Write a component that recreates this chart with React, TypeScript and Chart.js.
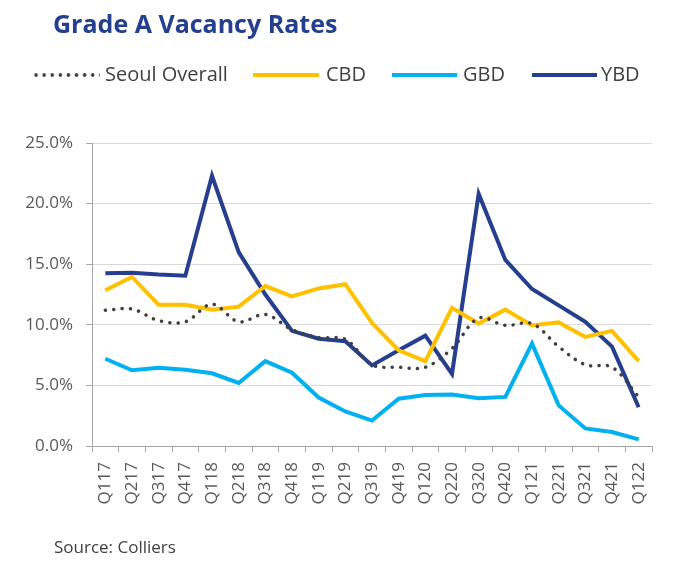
import React, { useEffect, useRef } from "react";
import { Chart, registerables } from "chart.js";

Chart.register(...registerables);

const categories = [
  "Q117", "Q217", "Q317", "Q417", "Q118", "Q218", "Q318", "Q418",
  "Q119", "Q219", "Q319", "Q419", "Q120", "Q220", "Q320", "Q420",
  "Q121", "Q221", "Q321", "Q421", "Q122",
];

const seoulOverall = [11.2, 11.3, 10.35, 10.25, 11.7, 10.25, 10.85, 9.6, 8.95, 8.8, 6.7, 6.5, 6.5, 8.05, 10.55, 9.95, 10.1, 8.2, 6.7, 6.5, 4.05];
const cbd = [12.85, 13.95, 11.65, 11.65, 11.25, 11.5, 13.2, 12.35, 13.0, 13.35, 10.15, 7.9, 7.0, 11.4, 10.1, 11.25, 9.95, 10.2, 9.0, 9.5, 7.0];
const gbd = [7.2, 6.25, 6.45, 6.3, 6.0, 5.2, 7.0, 6.05, 4.0, 2.85, 2.1, 3.9, 4.2, 4.25, 3.95, 4.05, 8.45, 3.35, 1.45, 1.15, 0.55];
const ybd = [14.25, 14.3, 14.15, 14.05, 22.3, 16.0, 12.5, 9.5, 8.85, 8.65, 6.65, 7.9, 9.1, 5.95, 20.8, 15.35, 12.95, 11.6, 10.25, 8.2, 3.2];

const yTicks = [0, 5, 10, 15, 20, 25];

const COLORS = {
  seoul: "#404040",
  cbd: "#FFC000",
  gbd: "#00B0F0",
  ybd: "#253E8E",
};

const FONT = "'Open Sans', 'Noto Sans', sans-serif";

export default function App() {
  const canvasRef = useRef<HTMLCanvasElement | null>(null);

  useEffect(() => {
    const canvas = canvasRef.current;
    if (!canvas) return;
    const chart = new Chart(canvas, {
      type: "line",
      data: {
        labels: categories,
        datasets: [
          {
            label: "Seoul Overall",
            data: seoulOverall,
            borderColor: COLORS.seoul,
            borderWidth: 3.5,
            borderDash: [0.1, 8.3],
            borderCapStyle: "round",
            pointRadius: 0,
            tension: 0.35,
          },
          {
            label: "CBD",
            data: cbd,
            borderColor: COLORS.cbd,
            borderWidth: 4,
            pointRadius: 0,
            tension: 0,
          },
          {
            label: "GBD",
            data: gbd,
            borderColor: COLORS.gbd,
            borderWidth: 4,
            pointRadius: 0,
            tension: 0,
          },
          {
            label: "YBD",
            data: ybd,
            borderColor: COLORS.ybd,
            borderWidth: 4,
            pointRadius: 0,
            tension: 0,
          },
        ],
      },
      options: {
        responsive: false,
        animation: false,
        layout: { padding: { top: 143, left: 0, right: 39, bottom: 0 } },
        plugins: {
          legend: { display: false },
          title: { display: false },
          tooltip: { enabled: false },
        },
        scales: {
          x: {
            type: "category",
            offset: true,
            grid: {
              offset: true,
              drawOnChartArea: false,
              drawTicks: true,
              tickLength: 6,
              tickColor: "#a6a6a6",
            },
            border: { color: "#a6a6a6", width: 1 },
            ticks: {
              autoSkip: false,
              minRotation: 90,
              maxRotation: 90,
              padding: 10,
              color: "#595959",
              font: { family: FONT, size: 17 },
            },
            afterFit: (scale: any) => {
              scale.height = 124;
            },
          },
          y: {
            min: 0,
            max: 25,
            afterBuildTicks: (scale: any) => {
              scale.ticks = yTicks.map((v) => ({ value: v }));
            },
            grid: {
              color: "#d9d9d9",
              lineWidth: 1,
              tickLength: 6,
              tickColor: "#a6a6a6",
            },
            border: { color: "#a6a6a6", width: 1 },
            ticks: {
              padding: 13,
              color: "#595959",
              font: { family: FONT, size: 17 },
              callback: (v: any) => Number(v).toFixed(1) + "%",
            },
            afterFit: (scale: any) => {
              scale.width = 92;
            },
          },
        },
      },
    });
    return () => chart.destroy();
  }, []);

  const legendText: React.CSSProperties = {
    position: "absolute",
    top: 62,
    fontFamily: FONT,
    fontSize: 20,
    lineHeight: "24px",
    color: "#404040",
    whiteSpace: "nowrap",
  };
  const legendLine = (left: number, width: number, color: string): React.CSSProperties => ({
    position: "absolute",
    left,
    top: 73,
    width,
    height: 4,
    background: color,
  });

  return (
    <div style={{ position: "absolute", left: 0, top: 0, width: 691, height: 570, background: "#fff" }}>
      <canvas
        ref={canvasRef}
        width={691}
        height={570}
        style={{ position: "absolute", left: 0, top: 0, width: 691, height: 570 }}
      />
      <div
        style={{
          position: "absolute",
          left: 53,
          top: 8,
          fontFamily: FONT,
          fontWeight: 700,
          fontSize: 25,
          lineHeight: "30px",
          color: "#243F8E",
          whiteSpace: "nowrap",
        }}
      >
        Grade A Vacancy Rates
      </div>
      <div
        style={{
          position: "absolute",
          left: 32,
          top: 73,
          width: 68,
          height: 4,
          backgroundImage: "radial-gradient(circle, #404040 1.6px, transparent 2px)",
          backgroundSize: "8.1px 4px",
          backgroundRepeat: "repeat-x",
        }}
      />
      <div style={{ ...legendText, left: 105 }}>Seoul Overall</div>
      <div style={legendLine(253, 66, COLORS.cbd)} />
      <div style={{ ...legendText, left: 326 }}>CBD</div>
      <div style={legendLine(392, 65, COLORS.gbd)} />
      <div style={{ ...legendText, left: 463 }}>GBD</div>
      <div style={legendLine(532, 65, COLORS.ybd)} />
      <div style={{ ...legendText, left: 601 }}>YBD</div>
      <div
        style={{
          position: "absolute",
          left: 54,
          top: 537,
          fontFamily: FONT,
          fontSize: 17,
          lineHeight: "20px",
          color: "#404040",
          whiteSpace: "nowrap",
        }}
      >
        Source: Colliers
      </div>
    </div>
  );
}
